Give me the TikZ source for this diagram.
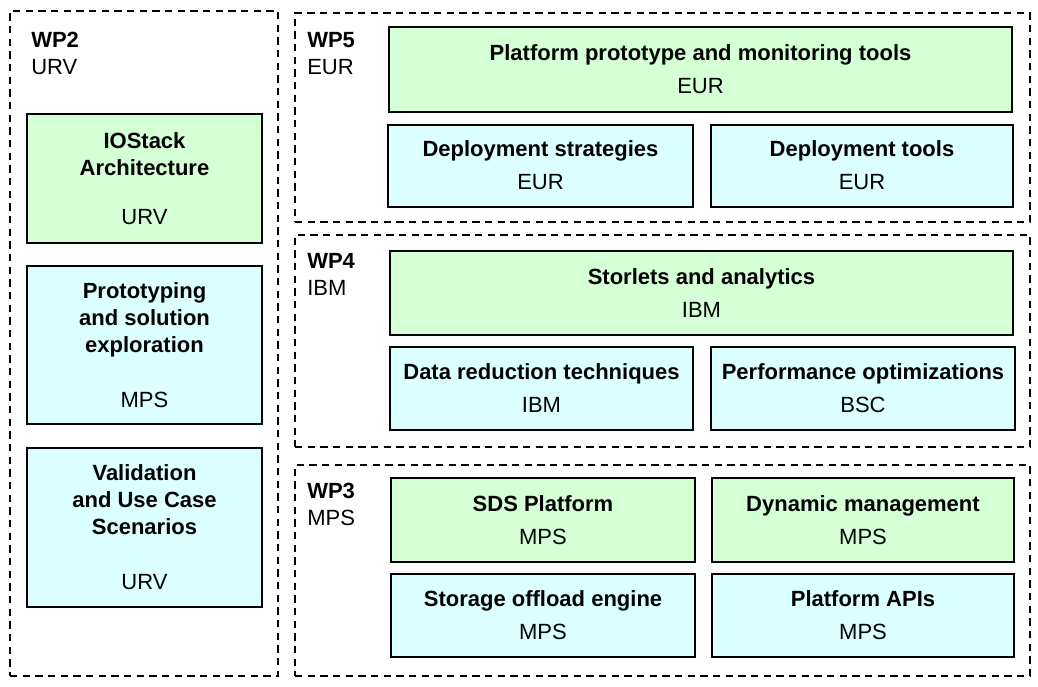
\documentclass[tikz,border=0pt]{standalone}
\usepackage{fontspec}
\setmainfont{Liberation Sans}
\usepackage{xcolor}
\newcommand{\pxl}{0.75pt}
\definecolor{leadgreen}{RGB}{213,255,213}
\definecolor{taskcyan}{RGB}{220,255,255}
\tikzset{
    wpsty/.style 2 args={draw,rectangle,dash pattern=on 5.5pt off 4pt,line width=1.1pt,inner sep=0pt,minimum width=#1*\pxl,minimum height=#2*\pxl},
    tasksty/.style 2 args={draw,rectangle,line width=1.5pt,inner sep=0pt,align=center,minimum width=#1*\pxl,minimum height=#2*\pxl,font=\fontsize{16.5}{20.25}\selectfont},
    grsty/.style 2 args={tasksty={#1}{#2},fill=leadgreen},
    cysty/.style 2 args={tasksty={#1}{#2},fill=taskcyan},
    wpnamesty/.style={anchor=base west,inner sep=0pt,font=\fontsize{16.5}{20.25}\selectfont\bfseries},
    orgsty/.style={anchor=base west,inner sep=0pt,font=\fontsize{16.5}{20.25}\selectfont},
}

\begin{document}
\begin{tikzpicture}[x=\pxl,y=-\pxl]
  \useasboundingbox (0,0) rectangle (1038,686);

  % work packages
  \node[wpsty={268}{665}] (wp2) at (144,343.5) {};
  \node[wpsty={735}{209}] (wp5) at (662.5,117.5) {};
  \node[wpsty={735}{212}] (wp4) at (662.5,341) {};
  \node[wpsty={735}{211}] (wp3) at (662.5,570.5) {};

  \node[wpnamesty] (wp2name) at (31,47) {WP2};
  \node[orgsty]    (wp2org)  at (31,74) {URV};
  \node[wpnamesty] (wp5name) at (307,47) {WP5};
  \node[orgsty]    (wp5org)  at (307,74) {EUR};
  \node[wpnamesty] (wp4name) at (307,268) {WP4};
  \node[orgsty]    (wp4org)  at (307,295) {IBM};
  \node[wpnamesty] (wp3name) at (307,498) {WP3};
  \node[orgsty]    (wp3org)  at (307,525) {MPS};

  % WP2 tasks
  \node[grsty={235}{129}] (iostack) at (144.5,178.5) {\textbf{IOStack}\\\textbf{Architecture}\\[17pt]URV};
  \node[cysty={235}{158}] (proto) at (144.5,345) {\textbf{Prototyping}\\\textbf{and solution}\\\textbf{exploration}\\[21pt]MPS};
  \node[cysty={235}{159}] (valid) at (144.5,527.5) {\textbf{Validation}\\\textbf{and Use Case}\\\textbf{Scenarios}\\[21pt]URV};

  % WP5 tasks
  \node[grsty={623}{85}] (platproto) at (700.5,69.5) {\textbf{Platform prototype and monitoring tools}\\[4.5pt]EUR};
  \node[cysty={305}{82}] (deplstrat) at (540.5,165.5) {\textbf{Deployment strategies}\\[4.5pt]EUR};
  \node[cysty={302}{82}] (depltools) at (862,165.5) {\textbf{Deployment tools}\\[4.5pt]EUR};

  % WP4 tasks
  \node[grsty={623}{84}] (storlets) at (701.5,293) {\textbf{Storlets and analytics}\\[4.5pt]IBM};
  \node[cysty={303}{83}] (datared) at (541.5,388) {\textbf{Data reduction techniques}\\[4.5pt]IBM};
  \node[cysty={304}{83}] (perfopt) at (863,388) {\textbf{Performance optimizations}\\[4.5pt]BSC};

  % WP3 tasks
  \node[grsty={304}{84}] (sdsplat) at (543,520) {\textbf{SDS Platform}\\[4.5pt]MPS};
  \node[grsty={302}{84}] (dynmgmt) at (863,520) {\textbf{Dynamic management}\\[4.5pt]MPS};
  \node[cysty={304}{83}] (offload) at (543,615.5) {\textbf{Storage offload engine}\\[4.5pt]MPS};
  \node[cysty={302}{83}] (platapis) at (863,615.5) {\textbf{Platform APIs}\\[4.5pt]MPS};
\end{tikzpicture}
\end{document}
